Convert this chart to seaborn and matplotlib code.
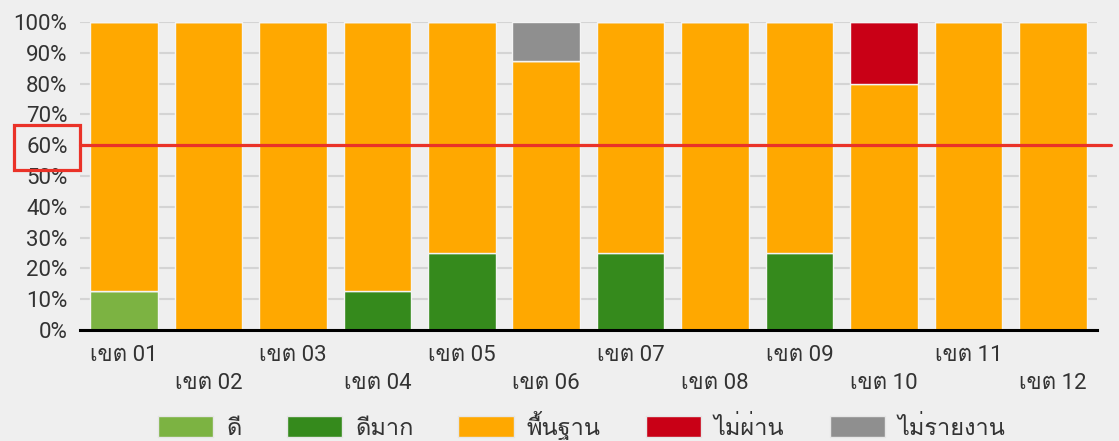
import numpy as np
import pandas as pd
import matplotlib
import matplotlib.pyplot as plt
import seaborn as sns
from matplotlib import font_manager
from matplotlib.patches import Patch

matplotlib.use('Agg')

# ==========================================
# ข้อมูล (ร้อยละ)
# ==========================================
districts = ['เขต 01', 'เขต 02', 'เขต 03', 'เขต 04', 'เขต 05', 'เขต 06',
             'เขต 07', 'เขต 08', 'เขต 09', 'เขต 10', 'เขต 11', 'เขต 12']
levels = ['ดี', 'ดีมาก', 'พื้นฐาน', 'ไม่ผ่าน', 'ไม่รายงาน']
colors = ['#7cb342', '#358a1c', '#ffa800', '#c90016', '#8f8f8f']

good      = [12.5, 0, 0, 0,    0,  0,    0,  0, 0,  0,  0, 0]
very_good = [0,    0, 0, 12.5, 25, 0,    25, 0, 25, 0,  0, 0]
basic     = [87.5, 100, 100, 87.5, 75, 87.5, 75, 100, 75, 80, 100, 100]
failed    = [0,    0, 0, 0,    0,  0,    0,  0, 0,  20, 0, 0]
no_report = [0,    0, 0, 0,    0,  12.5, 0,  0, 0,  0,  0, 0]
target = 60

# หาฟอนต์ที่มีอักษรไทย
thai_font = None
try:
    from fontTools.ttLib import TTFont
    for f in font_manager.fontManager.ttflist:
        try:
            tt = TTFont(f.fname, fontNumber=0, lazy=True)
            if 0x0E14 in tt.getBestCmap():
                thai_font = f.name
                break
        except Exception:
            pass
except ImportError:
    pass

sns.set_style('white')
fams = ['Roboto'] + ([thai_font] if thai_font else []) + ['DejaVu Sans']
plt.rcParams['font.family'] = fams

bg = '#efefef'
fs = 16
fig = plt.figure(figsize=(11.19, 4.41), dpi=100, facecolor=bg)
ax = fig.add_axes([0.0715, 0.252, 0.9088, 0.698], facecolor=bg)

series = [good, very_good, basic, failed, no_report]
bottom = np.zeros(len(districts))
for vals, col in zip(series, colors):
    sns.barplot(x=districts, y=vals, bottom=bottom, color=col, width=0.8,
                edgecolor='#f4f4f4', linewidth=1, saturation=1, ax=ax, zorder=2)
    bottom = bottom + np.array(vals)

ax.set_ylim(0, 100)
ax.set_xlim(-0.52, len(districts) - 0.48)
ax.set_yticks(range(0, 101, 10))
ax.set_yticklabels([f'{v}%' for v in range(0, 101, 10)], fontsize=fs, color='#333333')
ax.yaxis.grid(True, color='#d4d4d4', lw=1.5, zorder=0)
ax.tick_params(axis='both', length=0, pad=9)

# ป้ายแกน x สลับสองแถว
ax.set_xticks(range(len(districts)))
ax.set_xticklabels([d if i % 2 == 0 else '\n' + d for i, d in enumerate(districts)],
                   fontsize=fs, color='#333333', linespacing=1.45)
ax.tick_params(axis='x', pad=11)

for s in ['top', 'right', 'left']:
    ax.spines[s].set_visible(False)
ax.spines['bottom'].set_color('black')
ax.spines['bottom'].set_linewidth(2.2)
ax.spines['bottom'].set_zorder(5)

# เส้นเป้าหมาย 60%
ax.axhline(target, xmin=0, xmax=1.014, color='#ea3228', lw=2.3, zorder=6, clip_on=False)
for lbl in ax.get_yticklabels():
    if lbl.get_text() == f'{target}%':
        lbl.set_bbox(dict(boxstyle='square,pad=0.55', facecolor='none',
                          edgecolor='#ea3228', linewidth=2.3))

handles = [Patch(facecolor=c, edgecolor='#e6e6e6') for c in colors]
fig.legend(handles, levels, loc='lower center', bbox_to_anchor=(0.52, -0.045), ncol=5,
           frameon=False, fontsize=17, handlelength=2.35, handleheight=0.95,
           handletextpad=0.55, columnspacing=1.9, labelcolor='#333333')

fig.savefig('out.png', dpi=100, facecolor=bg)
